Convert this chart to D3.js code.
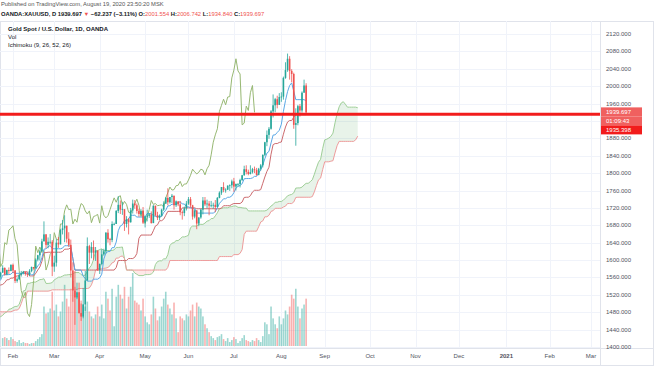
<!DOCTYPE html>
<html>
<head>
<meta charset="utf-8">
<script src="https://cdn.jsdelivr.net/npm/d3@7"></script>
<style>
  body { margin: 0; background: #fff; }
  svg { display: block; font-family: "Liberation Sans", Arial, sans-serif; }
</style>
</head>
<body>
<div id="chart"></div>
<script>
// Daily XAU/USD bars, one per weekday from 1 Oct 2019 to 19 Aug 2020
const closes = [
  1478,1499,1505,1505,1493,1505,1506,1494,1489,1494,1482,1491,1493,1490,1484,1488,1493,1504,1505,1492,1488,1496,1513, // Oct
  1514,1510,1484,1491,1467,1459,1456,1456,1463,1471,1468,1472,1472,1472,1465,1462,1456,1462,1455,1458,1464, // Nov
  1463,1477,1474,1476,1460,1462,1465,1475,1469,1476,1476,1476,1475,1479,1478,1487,1499,1501,1511,1510,1515,1517, // Dec
  1519,1528,1552,1566,1574,1556,1552,1562,1548,1545,1557,1553,1557,1560,1558,1558,1562,1571,1582,1567,1577,1575,1589, // Jan
  1576,1552,1556,1566,1570,1573,1568,1566,1575,1584,1581,1601,1611,1620,1643,1659,1635,1642,1642,1585, // Feb
  1594,1640,1636,1669,1673,1679,1649,1635,1576,1530,1514,1526,1478,1470,1498,1553,1632,1617,1630,1617,1622,1577, // Mar
  1591,1613,1620,1663,1648,1646,1683,1683,1713,1727,1716,1717,1683,1694,1687,1714,1730,1726,1713,1706,1713,1686, // Apr
  1700,1702,1705,1685,1725,1703,1697,1702,1716,1730,1743,1733,1745,1748,1726,1735,1728,1710,1708,1719,1730, // May
  1740,1726,1700,1714,1684,1698,1716,1737,1728,1730,1725,1726,1727,1722,1743,1755,1768,1761,1762,1771,1772,1781, // Jun
  1769,1775,1775,1784,1795,1809,1803,1798,1802,1809,1807,1796,1810,1818,1842,1871,1888,1902,1942,1956,1970,1957,1975, // Jul
  1976,2019,2037,2063,2035,2028,1911,1915,1954,1944,1985,2001.554,1939.697 // Aug
];
const highs = [
  1486,1500,1515,1513,1498,1507,1513,1511,1498,1497,1496,1494,1496,1495,1494,1490,1495,1506,1516,1506,1494,1498,1515,
  1516,1516,1512,1494,1495,1472,1462,1459,1466,1474,1473,1475,1478,1479,1474,1467,1463,1463,1462,1460,1466,
  1466,1479,1486,1482,1478,1465,1468,1477,1477,1478,1480,1479,1478,1481,1481,1488,1499,1502,1512,1514,1520,1524,
  1521,1531,1554,1582,1574,1611,1558,1562,1563,1549,1557,1559,1560,1561,1568,1563,1566,1573,1588,1583,1578,1583,1590,
  1592,1577,1560,1567,1575,1575,1573,1571,1579,1585,1584,1604,1612,1623,1649,1689,1660,1652,1660,1646,
  1610,1648,1653,1672,1692,1703,1675,1664,1647,1595,1575,1548,1548,1500,1536,1575,1652,1635,1641,1645,1630,1622,
  1592,1625,1626,1664,1671,1651,1689,1686,1715,1747,1737,1734,1717,1701,1697,1720,1739,1738,1730,1718,1717,1722,
  1702,1716,1708,1712,1726,1722,1711,1705,1718,1735,1745,1765,1745,1752,1748,1737,1735,1736,1714,1723,1736,
  1745,1745,1727,1717,1715,1698,1718,1745,1745,1739,1736,1736,1732,1738,1745,1758,1768,1779,1765,1772,1774,1785,
  1789,1776,1777,1787,1796,1817,1818,1808,1818,1812,1815,1812,1812,1821,1843,1872,1898,1906,1945,1981,1973,1978,1984,
  1986,2022,2055,2075,2069,2039,2031,1949,1957,1959,1988,2015,2006.742
];
const lows = [
  1459,1474,1495,1501,1485,1490,1500,1490,1474,1485,1477,1480,1485,1483,1480,1481,1484,1489,1500,1486,1483,1482,1496,
  1503,1505,1481,1479,1464,1456,1449,1446,1448,1462,1460,1464,1468,1469,1460,1459,1455,1455,1452,1453,1456,
  1454,1461,1470,1472,1458,1458,1460,1463,1463,1465,1473,1473,1471,1473,1474,1477,1485,1498,1499,1507,1506,1513,
  1516,1516,1524,1552,1561,1553,1541,1547,1546,1535,1542,1549,1548,1557,1545,1553,1555,1557,1572,1564,1565,1568,1574,
  1570,1547,1548,1554,1562,1567,1564,1561,1563,1572,1578,1580,1597,1599,1620,1644,1627,1627,1636,1563,
  1573,1585,1628,1637,1659,1641,1640,1630,1560,1504,1451,1510,1477,1460,1466,1483,1553,1591,1604,1600,1598,1575,
  1568,1588,1610,1615,1640,1634,1641,1680,1683,1708,1706,1704,1667,1675,1659,1686,1707,1718,1707,1700,1703,1683,
  1675,1689,1697,1684,1685,1701,1692,1692,1700,1713,1729,1726,1730,1731,1716,1722,1724,1703,1693,1701,1714,
  1727,1721,1693,1696,1671,1678,1695,1705,1724,1719,1703,1721,1718,1710,1721,1742,1750,1756,1755,1761,1759,1765,
  1757,1760,1769,1767,1782,1794,1797,1795,1797,1799,1800,1794,1795,1806,1813,1839,1862,1879,1900,1928,1940,1949,1958,
  1964,1969,2017,2033,2015,2009,1902,1863,1910,1930,1939,1985,1934.84
];
// Volume (thousands) from 27 Jan 2020, the first bar on screen
const volumes = [
  8,9,8,6,9,
  7,5,4,6,3,4,3,3,2,3,3,5,7,9,12,40,33,34,38,55,
  36,42,30,35,45,62,48,40,58,66,60,50,48,46,42,40,45,35,30,28,32,40,
  30,42,28,55,48,36,58,20,50,62,52,48,60,38,50,60,74,46,44,42,36,48,
  30,24,22,32,50,38,26,30,40,48,55,42,38,32,44,28,14,30,28,26,32,
  30,36,42,30,44,40,38,30,22,18,14,10,8,6,9,10,12,7,5,8,4,6,
  9,7,3,5,8,11,6,5,4,6,5,8,6,4,10,24,22,12,40,28,22,18,30,
  22,28,36,32,40,52,48,58,40,28,38,42,48
];
const priceTicks = [1400,1440,1480,1520,1560,1600,1640,1680,1720,1760,1800,1840,1880,1920,1960,2000,2040,2080,2120];
const monthLabels = ['Feb','Mar','Apr','May','Jun','Jul','Aug','Sep','Oct','Nov','Dec','2021','Feb','Mar'];
const lineLevel = 1935.398;

const W = 654, H = 366;
const plotL = 0, plotR = 600, plotT = 21, plotB = 347;
const up = '#26a69a', down = '#ef5350';

const svg = d3.select('#chart').append('svg').attr('width', W).attr('height', H);

// weekday calendar, bar 0 = 3 Feb 2020
const days = [];
for (let t = Date.UTC(2019, 9, 1); t <= Date.UTC(2021, 2, 31); t += 864e5) {
  const wd = new Date(t).getUTCDay();
  if (wd !== 0 && wd !== 6) days.push(new Date(t));
}
const origin = days.findIndex(d => +d === Date.UTC(2020, 1, 3));
const volStart = days.findIndex(d => +d === Date.UTC(2020, 0, 27)) - origin;

const x = d3.scaleLinear().domain([0, 280]).range([13, 591]);
const y = d3.scaleLinear().domain([1400, 2120]).range([347, 34]);
const yVol = d3.scaleLinear().domain([0, 75]).range([346, 272]);

const bars = closes.map((c, k) => ({
  i: k - origin, o: k ? closes[k - 1] : c, h: highs[k], l: lows[k], c
}));

// month ticks: first weekday of each month from Feb 2020
const monthTicks = [];
days.forEach((d, k) => {
  if (k === origin || (k > origin && d.getUTCMonth() !== days[k - 1].getUTCMonth())) {
    monthTicks.push(k - origin);
  }
});

// frame + grid
svg.append('rect').attr('x', 0.5).attr('y', plotT + 0.5).attr('width', W - 1).attr('height', H - plotT - 1)
  .attr('fill', 'none').attr('stroke', '#e0e3eb');
svg.append('g').selectAll('line').data(priceTicks).join('line')
  .attr('x1', plotL).attr('x2', plotR).attr('y1', d => Math.round(y(d)) + 0.5).attr('y2', d => Math.round(y(d)) + 0.5)
  .attr('stroke', '#f0f3fa');
svg.append('g').selectAll('line').data(monthTicks).join('line')
  .attr('x1', d => Math.round(x(d)) + 0.5).attr('x2', d => Math.round(x(d)) + 0.5)
  .attr('y1', plotT).attr('y2', plotB).attr('stroke', '#f0f3fa');

svg.append('clipPath').attr('id', 'plot').append('rect')
  .attr('x', plotL).attr('y', plotT).attr('width', plotR - plotL).attr('height', plotB - plotT);
const g = svg.append('g').attr('clip-path', 'url(#plot)');

// volume
g.append('g').selectAll('rect').data(volumes).join('rect')
  .attr('x', (v, j) => x(volStart + j) - 0.8)
  .attr('width', 1.6)
  .attr('y', v => yVol(v))
  .attr('height', v => yVol(0) - yVol(v))
  .attr('fill', (v, j) => {
    const b = bars[origin + volStart + j];
    return b.c >= b.o ? up : down;
  })
  .attr('opacity', 0.45);

// ichimoku (9, 26, 52, 26)
function mid(k, n) {
  const s = Math.max(0, k - n + 1);
  return (d3.max(highs.slice(s, k + 1)) + d3.min(lows.slice(s, k + 1))) / 2;
}
const tenkan = [], kijun = [], lagging = [], cloud = [];
bars.forEach((b, k) => {
  if (k >= 8) tenkan.push({ i: b.i, v: mid(k, 9) });
  if (k >= 25) kijun.push({ i: b.i, v: mid(k, 26) });
  lagging.push({ i: b.i - 25, v: b.c });
  if (k >= 51) cloud.push({ i: b.i + 25, a: (mid(k, 9) + mid(k, 26)) / 2, b: mid(k, 52) });
});

g.append('path').datum(cloud)
  .attr('d', d3.area().x(d => x(d.i)).y0(d => y(d.b)).y1(d => y(Math.max(d.a, d.b))))
  .attr('fill', '#43a047').attr('opacity', 0.12);
g.append('path').datum(cloud)
  .attr('d', d3.area().x(d => x(d.i)).y0(d => y(d.b)).y1(d => y(Math.min(d.a, d.b))))
  .attr('fill', '#f44336').attr('opacity', 0.12);

const line = d3.line().x(d => x(d.i)).y(d => y(d.v));
const drawLine = (data, color) => g.append('path').datum(data).attr('d', line)
  .attr('fill', 'none').attr('stroke', color).attr('stroke-width', 1);

drawLine(cloud.map(d => ({ i: d.i, v: d.a })), '#9fcf98');
drawLine(cloud.map(d => ({ i: d.i, v: d.b })), '#ee9c9c');
drawLine(lagging, '#97b873');
drawLine(kijun, '#cc6a6e');
drawLine(tenkan, '#5aa8e6');

// candles
const candle = g.append('g').selectAll('g').data(bars.filter(b => b.i >= -8)).join('g')
  .attr('stroke', b => b.c >= b.o ? up : down)
  .attr('fill', b => b.c >= b.o ? up : down);
candle.append('line')
  .attr('x1', b => x(b.i)).attr('x2', b => x(b.i))
  .attr('y1', b => y(Math.max(b.h, b.o, b.c))).attr('y2', b => y(Math.min(b.l, b.o, b.c)))
  .attr('stroke-width', 0.8);
candle.append('rect')
  .attr('x', b => x(b.i) - 0.8).attr('width', 1.6)
  .attr('y', b => y(Math.max(b.o, b.c)))
  .attr('height', b => Math.max(0.8, Math.abs(y(b.o) - y(b.c))))
  .attr('stroke', 'none');

// user drawn horizontal line
g.append('line').attr('x1', plotL).attr('x2', plotR)
  .attr('y1', y(lineLevel)).attr('y2', y(lineLevel))
  .attr('stroke', '#f21c1c').attr('stroke-width', 3);

// price scale
svg.append('line').attr('x1', plotR + 0.5).attr('x2', plotR + 0.5).attr('y1', plotT).attr('y2', H)
  .attr('stroke', '#e0e3eb');
svg.append('line').attr('x1', 0).attr('x2', W).attr('y1', plotB + 1.5).attr('y2', plotB + 1.5)
  .attr('stroke', '#e0e3eb');

const tags = [
  { t: closes[closes.length - 1].toFixed(3), fill: '#f0605f' },
  { t: '01:09:43', fill: '#f0605f' },
  { t: lineLevel.toFixed(3), fill: '#f21c1c' }
];
const tagTop = y(closes[closes.length - 1]) - 5;
const tagBottom = tagTop + tags.length * 9;

svg.append('g').selectAll('text')
  .data(priceTicks.filter(d => y(d) < tagTop - 3 || y(d) > tagBottom + 3)).join('text')
  .attr('x', 606).attr('y', d => y(d) + 2)
  .attr('font-size', 6).attr('fill', '#50535e')
  .text(d => d.toFixed(3));

const tag = svg.append('g').selectAll('g').data(tags).join('g')
  .attr('transform', (d, j) => `translate(${plotR + 1},${tagTop + j * 9})`);
tag.append('rect').attr('width', 41).attr('height', 9).attr('fill', d => d.fill);
tag.append('text').attr('x', 5).attr('y', 6.6).attr('font-size', 6).attr('fill', '#fff').text(d => d.t);

// time scale
svg.append('g').selectAll('text').data(monthTicks).join('text')
  .attr('x', d => x(d)).attr('y', 358)
  .attr('text-anchor', 'middle').attr('font-size', 6).attr('fill', '#50535e')
  .attr('font-weight', (d, j) => monthLabels[j] === '2021' ? 'bold' : null)
  .text((d, j) => monthLabels[j]);

// header
svg.append('text').attr('x', 1).attr('y', 6).attr('font-size', 5.8).attr('fill', '#555')
  .text('Published on TradingView.com, August 19, 2020 23:50:20 MSK');
const hdr = svg.append('text').attr('x', 1).attr('y', 15.5).attr('font-size', 5.8).attr('font-weight', 'bold').attr('fill', '#131722');
hdr.append('tspan').text('OANDA:XAUUSD, D 1939.697 ');
hdr.append('tspan').attr('fill', down).text('▼');
hdr.append('tspan').text(' −62.237 (−3.11%) O:');
hdr.append('tspan').attr('fill', down).attr('font-weight', 'normal').text('2001.554');
hdr.append('tspan').text(' H:');
hdr.append('tspan').attr('fill', down).attr('font-weight', 'normal').text('2006.742');
hdr.append('tspan').text(' L:');
hdr.append('tspan').attr('fill', down).attr('font-weight', 'normal').text('1934.840');
hdr.append('tspan').text(' C:');
hdr.append('tspan').attr('fill', down).attr('font-weight', 'normal').text('1939.697');

const legend = [
  { t: 'Gold Spot / U.S. Dollar, 1D, OANDA', w: 'bold' },
  { t: 'Vol', w: null },
  { t: 'Ichimoku (9, 26, 52, 26)', w: null }
];
svg.append('g').selectAll('text').data(legend).join('text')
  .attr('x', 8).attr('y', (d, j) => 31 + j * 8)
  .attr('font-size', 6).attr('font-weight', d => d.w).attr('fill', '#131722')
  .text(d => d.t);
</script>
</body>
</html>
